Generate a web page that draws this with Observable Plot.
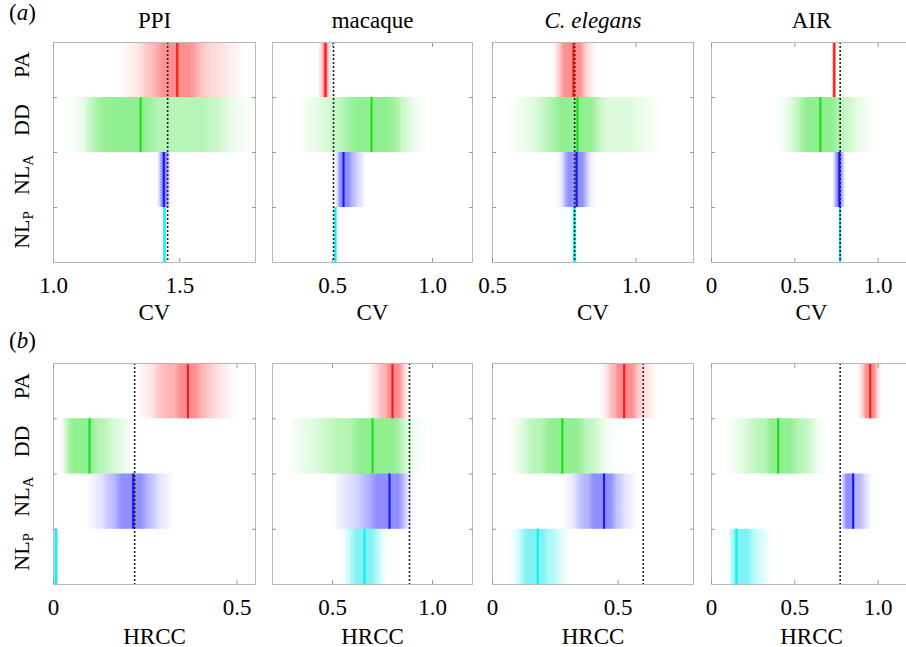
<!DOCTYPE html>
<html><head><meta charset="utf-8">
<script src="https://cdn.jsdelivr.net/npm/d3@7"></script>
<script src="https://cdn.jsdelivr.net/npm/@observablehq/plot@0.6"></script>
<style>
body{margin:0;background:#fff;}
#chart{position:relative;width:906px;height:647px;overflow:hidden;background:#fff;font-family:"Liberation Serif","Times New Roman",serif;}
.plab{position:absolute;font-size:23px;line-height:1;white-space:nowrap;font-family:"Liberation Serif",serif;}
#chart svg{position:absolute;}
#chart svg, #chart svg text{font-family:"Liberation Serif","Times New Roman",serif !important;}
</style></head><body><div id="chart"></div>
<script>
// ---------- data ----------
const models = ["PA", "DD", "NL_A", "NL_P"];
const networks = ["PPI", "macaque", "C. elegans", "AIR"];
const lineColors = ["#ff1a1a", "#22dd22", "#1a1aff", "#11eeee"];
const bandColors = ["#ff2020", "#22e022", "#2020ff", "#00e8e8"];
const metricNames = ["CV", "HRCC"];

// CV (panel a)
const cvDomains = [[1.0, 1.8], [0.2, 1.2], [0.5, 1.2], [0, 1.2]];
const cvTicks = [[1.0, 1.5], [0.5, 1.0], [0.5, 1.0], [0, 0.5, 1.0]];
const cvReal = [1.452, 0.505, 0.786, 0.772];
const cvMed = [
  [1.49, 1.345, 1.437, 1.44],
  [0.465, 0.695, 0.555, 0.515],
  [0.782, 0.796, 0.793, 0.786],
  [0.737, 0.653, 0.767, 0.772]
];
const cvOut = [
  [[1.26, 1.76], [1.04, 1.80], [1.41, 1.47], [1.432, 1.448]],
  [[0.43, 0.50], [0.32, 0.98], [0.51, 0.67], [0.507, 0.523]],
  [[0.705, 0.865], [0.55, 1.09], [0.725, 0.86], [0.776, 0.797]],
  [[0.722, 0.753], [0.38, 0.98], [0.725, 0.81], [0.765, 0.779]]
];
const cvMid = [
  [[1.34, 1.63], [1.10, 1.72], [1.418, 1.462], [1.434, 1.446]],
  [[0.445, 0.485], [0.46, 0.91], [0.515, 0.63], [0.509, 0.521]],
  [[0.72, 0.835], [0.645, 0.90], [0.74, 0.84], [0.779, 0.794]],
  [[0.726, 0.749], [0.46, 0.86], [0.735, 0.80], [0.767, 0.777]]
];
const cvIn = [
  [[1.40, 1.58], [1.12, 1.42], [1.424, 1.456], [1.436, 1.444]],
  [[0.452, 0.478], [0.55, 0.85], [0.525, 0.60], [0.511, 0.519]],
  [[0.735, 0.825], [0.70, 0.88], [0.75, 0.83], [0.781, 0.792]],
  [[0.729, 0.746], [0.52, 0.78], [0.745, 0.79], [0.769, 0.775]]
];

// HRCC (panel b)
const hrccDomains = [[0, 0.55], [0.2, 1.2], [0, 0.8], [0, 1.2]];
const hrccTicks = [[0, 0.5], [0.5, 1.0], [0, 0.5], [0, 0.5, 1.0]];
const hrccReal = [0.221, 0.885, 0.60, 0.772];
const hrccMed = [
  [0.366, 0.098, 0.217, 0.007],
  [0.80, 0.70, 0.785, 0.66],
  [0.524, 0.278, 0.444, 0.18],
  [0.952, 0.40, 0.85, 0.15]
];
const hrccOut = [
  [[0.225, 0.50], [0.02, 0.22], [0.09, 0.33], [0, 0.016]],
  [[0.675, 0.895], [0.27, 0.98], [0.50, 0.92], [0.54, 0.78]],
  [[0.425, 0.66], [0.055, 0.50], [0.28, 0.58], [0.065, 0.315]],
  [[0.875, 1.028], [0.08, 0.70], [0.755, 0.968], [0.10, 0.36]]
];
const hrccMid = [
  [[0.27, 0.445], [0.022, 0.17], [0.135, 0.29], [0, 0.013]],
  [[0.72, 0.875], [0.42, 0.91], [0.61, 0.90], [0.57, 0.755]],
  [[0.45, 0.60], [0.10, 0.445], [0.325, 0.525], [0.088, 0.275]],
  [[0.90, 1.005], [0.20, 0.64], [0.78, 0.925], [0.104, 0.29]]
];
const hrccIn = [
  [[0.33, 0.405], [0.025, 0.125], [0.168, 0.258], [0, 0.01]],
  [[0.765, 0.855], [0.575, 0.875], [0.68, 0.875], [0.595, 0.725]],
  [[0.485, 0.575], [0.19, 0.375], [0.38, 0.495], [0.115, 0.225]],
  [[0.914, 0.996], [0.32, 0.52], [0.795, 0.865], [0.106, 0.25]]
];

// ---------- layout ----------
const metrics = [
  {name: metricNames[0], domains: cvDomains, ticks: cvTicks, real: cvReal, med: cvMed, out: cvOut, mid: cvMid, inn: cvIn},
  {name: metricNames[1], domains: hrccDomains, ticks: hrccTicks, real: hrccReal, med: hrccMed, out: hrccOut, mid: hrccMid, inn: hrccIn}
];
const colLeft = [53, 272, 492, 711];
const colWidth = [202, 200, 201, 200];
const rowTop = [42, 363];
const rowHeight = [220, 221];
const labelOffset = [57, 59];
const serif = "Liberation Serif, Times New Roman, serif";
const fmt = d => d === 0 ? "0" : d.toFixed(1);
const NS = "http://www.w3.org/2000/svg";

const chart = document.getElementById("chart");

// soft-edged horizontal gradients, one per model colour
function gradientDefs() {
  const defs = document.createElementNS(NS, "defs");
  bandColors.forEach((col, i) => {
    const g = document.createElementNS(NS, "linearGradient");
    g.setAttribute("id", "bandgrad" + i);
    g.setAttribute("x1", "0"); g.setAttribute("x2", "1");
    g.setAttribute("y1", "0"); g.setAttribute("y2", "0");
    [[0, 0], [0.22, 1], [0.78, 1], [1, 0]].forEach(([o, a]) => {
      const s = document.createElementNS(NS, "stop");
      s.setAttribute("offset", o);
      s.setAttribute("stop-color", col);
      s.setAttribute("stop-opacity", a);
      g.appendChild(s);
    });
    defs.appendChild(g);
  });
  return defs;
}

function panel(r, c) {
  const m = metrics[r];
  const ml = c === 0 ? 53 : 16, mr = 12, mt = 45, mb = 70;
  const fw = colWidth[c], fh = rowHeight[r];
  const rows = models.map((name, i) => ({
    name, i, med: m.med[c][i], out: m.out[c][i], mid: m.mid[c][i], inn: m.inn[c][i]
  }));
  const levels = [["out", 0.16], ["mid", 0.2], ["inn", 0.26]];
  const marks = [() => gradientDefs()];
  for (const [k, op] of levels) {
    rows.forEach(row => {
      marks.push(Plot.rect([row], {
        x1: d => d[k][0], x2: d => d[k][1], y1: d => d.i, y2: d => d.i + 1,
        fill: `url(#bandgrad${row.i})`, fillOpacity: op
      }));
    });
  }
  marks.push(Plot.ruleX(rows, {x: "med", y1: d => d.i, y2: d => d.i + 1, stroke: d => lineColors[d.i], strokeWidth: 2.2}));
  marks.push(Plot.ruleX([m.real[c]], {stroke: "#222", strokeWidth: 1.6, strokeDasharray: "2,2"}));
  marks.push(Plot.frame({stroke: "#b8b8b8"}));
  // inward tick marks
  marks.push(Plot.axisX({anchor: "bottom", ticks: m.ticks[c], tickSize: -4, tickFormat: () => "", stroke: "#999", label: null}));
  marks.push(Plot.axisX({anchor: "top", ticks: m.ticks[c], tickSize: -4, tickFormat: () => "", stroke: "#999", label: null}));
  marks.push(Plot.axisY({anchor: "left", ticks: [1, 2, 3], tickSize: -4, tickFormat: () => "", stroke: "#999", label: null}));
  marks.push(Plot.axisY({anchor: "right", ticks: [1, 2, 3], tickSize: -4, tickFormat: () => "", stroke: "#999", label: null}));
  // tick labels
  marks.push(Plot.axisX({anchor: "bottom", ticks: m.ticks[c], tickSize: 0, tickPadding: 14, tickFormat: fmt, fontSize: 23, label: null}));
  // axis label
  marks.push(Plot.text([m.name], {frameAnchor: "bottom", dy: labelOffset[r], lineAnchor: "bottom", fontSize: 23}));
  if (r === 0) {
    marks.push(Plot.text([networks[c]], {frameAnchor: "top", dy: -15, lineAnchor: "bottom", fontSize: 23, fontStyle: c === 2 ? "italic" : "normal"}));
  }
  if (c === 0) {
    marks.push(Plot.text(models, {frameAnchor: "left", textAnchor: "middle", y: (d, i) => i + 0.5, text: d => d, rotate: -90, dx: -32, dy: -5, fontSize: 22}));
  }
  const svg = Plot.plot({
    width: ml + fw + mr, height: mt + fh + mb,
    marginLeft: ml, marginRight: mr, marginTop: mt, marginBottom: mb,
    x: {domain: m.domains[c], label: null},
    y: {domain: [0, 4], reverse: true, label: null},
    style: {fontFamily: serif, fontSize: "22px", background: "transparent", overflow: "visible", color: "#000"},
    marks
  });
  // subscripts for NL_A / NL_P
  svg.querySelectorAll("text").forEach(t => {
    const s = t.textContent;
    if (s === "NL_A" || s === "NL_P") {
      t.textContent = "NL";
      const ts = document.createElementNS(NS, "tspan");
      ts.setAttribute("dy", "0.3em");
      ts.setAttribute("font-size", "15");
      ts.textContent = s.slice(3);
      t.appendChild(ts);
    }
  });
  svg.style.left = (colLeft[c] - ml) + "px";
  svg.style.top = (rowTop[r] - mt) + "px";
  svg.style.maxWidth = "none";
  chart.appendChild(svg);
}

for (let r = 0; r < 2; r++) for (let c = 0; c < 4; c++) panel(r, c);

// panel letters
[["a", 9, 21], ["b", 9, 349]].forEach(([l, x, base]) => {
  const d = document.createElement("div");
  d.className = "plab";
  d.innerHTML = "(<i>" + l + "</i>)";
  d.style.left = x + "px";
  d.style.top = (base - 20.5) + "px";
  chart.appendChild(d);
});
</script></body></html>
